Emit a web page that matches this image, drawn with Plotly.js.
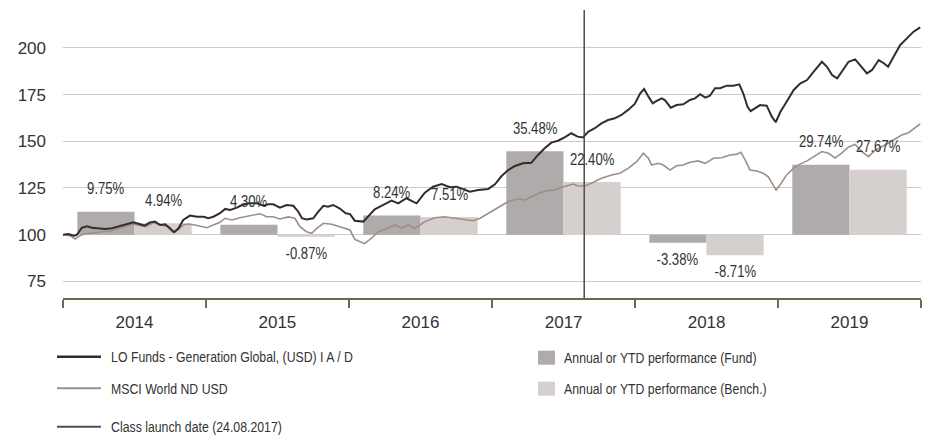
<!DOCTYPE html>
<html>
<head>
<meta charset="utf-8">
<script src="https://cdn.plot.ly/plotly-3.0.1.min.js"></script>
<style>
  html, body { margin: 0; padding: 0; background: #ffffff; }
  #chart { width: 927px; height: 436px; }
</style>
</head>
<body>
<div id="chart"></div>
<script>
// ---------- DATA ----------
const years = ['2014', '2015', '2016', '2017', '2018', '2019'];
const fundPerf  = [9.75, 4.30, 8.24, 35.48, -3.38, 29.74];
const benchPerf = [4.94, -0.87, 7.51, 22.40, -8.71, 27.67];

const fundDates = [
  '2014-01-01','2014-01-15','2014-01-28','2014-02-05','2014-02-18','2014-03-03','2014-03-16','2014-04-01','2014-04-18','2014-05-06',
  '2014-05-22','2014-06-13','2014-06-30','2014-07-17','2014-07-28','2014-08-11','2014-08-24','2014-09-06','2014-09-19','2014-10-01',
  '2014-10-12','2014-10-23','2014-11-04','2014-11-21','2014-12-09','2014-12-26',
  '2015-01-07','2015-01-20','2015-02-06','2015-02-19','2015-03-04','2015-03-21','2015-04-07','2015-04-24','2015-05-11','2015-05-28',
  '2015-06-09','2015-06-22','2015-07-09','2015-07-26','2015-08-12','2015-08-25','2015-09-03','2015-09-15','2015-10-02','2015-10-15',
  '2015-10-28','2015-11-09','2015-11-22','2015-12-09','2015-12-24',
  '2016-01-04','2016-01-16','2016-02-07','2016-02-19','2016-03-07','2016-03-24','2016-04-19','2016-05-06','2016-05-27','2016-06-13',
  '2016-06-22','2016-07-13','2016-08-03','2016-08-25','2016-09-15','2016-10-02','2016-10-19','2016-11-05','2016-11-26','2016-12-22',
  '2017-01-08','2017-01-25','2017-02-11','2017-02-28','2017-03-21','2017-04-11','2017-04-28','2017-05-15','2017-06-01','2017-06-18',
  '2017-07-05','2017-07-22','2017-08-07','2017-08-21','2017-09-03','2017-09-20','2017-10-07','2017-10-24','2017-11-10','2017-11-27',
  '2017-12-14','2017-12-31',
  '2018-01-14','2018-01-24','2018-02-04','2018-02-15','2018-02-25','2018-03-10','2018-03-18','2018-04-02','2018-04-17','2018-05-04',
  '2018-05-21','2018-06-03','2018-06-16','2018-06-29','2018-07-11','2018-07-24','2018-08-06','2018-08-23','2018-09-09','2018-09-24',
  '2018-10-04','2018-10-15','2018-10-23','2018-11-06','2018-11-16','2018-12-03','2018-12-16','2018-12-26',
  '2019-01-07','2019-01-19','2019-02-10','2019-02-27','2019-03-16','2019-04-02','2019-04-23','2019-05-06','2019-05-19','2019-06-01',
  '2019-06-13','2019-06-30','2019-07-17','2019-08-01','2019-08-16','2019-08-29','2019-09-15','2019-09-28','2019-10-09','2019-10-23',
  '2019-11-09','2019-11-26','2019-12-13','2019-12-30'
];
const fundValues = [
  100, 100.4, 99.5, 99.8, 103.7, 104.5, 103.7, 103.4, 103.0, 103.4,
  104.3, 105.6, 106.6, 105.6, 104.8, 106.6, 107.0, 105.2, 105.6, 103.4,
  101.3, 103.4, 107.9, 110.2, 109.6, 109.6,
  108.8, 109.6, 111.5, 113.8, 113.2, 114.5, 116.3, 116.8, 116.8, 115.5,
  116.3, 116.3, 114.5, 115.9, 115.5, 112.3, 108.8, 108.2, 108.8, 112.3,
  115.5, 115.0, 115.9, 114.0, 111.5,
  111.0, 107.5, 107.0, 109.6, 113.6, 115.4, 118.2, 116.8, 119.5, 117.7,
  116.8, 122.5, 125.7, 127.1, 125.4, 125.7, 124.3, 123.0, 123.9, 124.5,
  127.0, 131.4, 134.6, 136.8, 138.2, 138.5, 142.7, 146.3, 149.3, 150.3,
  152.1, 154.3, 152.5, 152.1, 155.1, 157.0, 159.6, 161.4, 162.3, 164.1,
  166.8, 170.0,
  175.7, 178.0, 173.9, 170.3, 171.6, 173.0, 172.1, 168.0, 169.4, 169.8,
  172.1, 173.0, 175.2, 173.4, 174.4, 178.4, 178.4, 179.8, 179.8, 180.5,
  175.7, 168.5, 166.2, 168.2, 169.4, 169.1, 163.2, 160.2,
  165.8, 169.8, 177.5, 181.0, 182.8, 187.3, 192.6, 189.9, 185.5, 183.7,
  187.3, 192.6, 193.9, 189.9, 186.4, 188.2, 193.5, 191.8, 189.9, 195.3,
  201.6, 205.1, 208.7, 211.0
];

const benchDates = [
  '2014-01-01','2014-01-19','2014-02-01','2014-02-14','2014-02-26','2014-04-01','2014-05-01','2014-06-01','2014-06-29','2014-07-17',
  '2014-08-01','2014-08-19','2014-09-06','2014-09-25','2014-10-09','2014-10-23','2014-11-04','2014-11-16','2014-12-04','2014-12-22',
  '2015-01-03','2015-01-20','2015-02-06','2015-02-19','2015-03-08','2015-03-29','2015-04-24','2015-05-19','2015-06-05','2015-06-22',
  '2015-07-09','2015-07-30','2015-08-16','2015-08-29','2015-09-15','2015-09-28','2015-10-11','2015-10-28','2015-11-18','2015-12-09',
  '2015-12-24',
  '2016-01-04','2016-01-16','2016-02-10','2016-02-28','2016-03-16','2016-04-10','2016-04-28','2016-05-15','2016-06-01','2016-06-18',
  '2016-07-13','2016-08-08','2016-09-02','2016-09-28','2016-10-23','2016-11-13','2016-12-01','2016-12-22',
  '2017-01-16','2017-02-11','2017-03-08','2017-03-25','2017-04-11','2017-05-03','2017-05-24','2017-06-10','2017-06-27','2017-07-14',
  '2017-07-27','2017-08-08','2017-08-26','2017-09-11','2017-10-07','2017-11-02','2017-11-23','2017-12-14','2017-12-31',
  '2018-01-05','2018-01-22','2018-02-04','2018-02-12','2018-03-01','2018-03-14','2018-03-31','2018-04-17','2018-05-04','2018-05-21',
  '2018-06-11','2018-06-29','2018-07-20','2018-08-10','2018-08-31','2018-09-17','2018-09-28','2018-10-09','2018-10-21','2018-11-08',
  '2018-11-24','2018-12-07','2018-12-16','2018-12-27',
  '2019-01-06','2019-01-23','2019-02-09','2019-02-26','2019-03-16','2019-04-06','2019-04-23','2019-05-10','2019-05-27','2019-06-13',
  '2019-06-30','2019-07-17','2019-08-03','2019-08-20','2019-09-06','2019-09-23','2019-10-10','2019-10-27','2019-11-13','2019-11-30',
  '2019-12-17','2019-12-30'
];
const benchValues = [
  100, 99.5, 97.7, 99.5, 100.5, 101.2, 102.0, 103.8, 105.7, 105.0,
  104.3, 106.4, 105.5, 104.2, 101.3, 102.8, 105.2, 105.7, 105.2, 104.5,
  103.7, 105.2, 106.6, 108.8, 107.9, 109.1, 110.2, 111.2, 109.6, 109.6,
  108.4, 109.5, 108.8, 104.3, 101.6, 100.7, 103.4, 106.1, 105.6, 104.3,
  103.0,
  102.5, 97.5, 95.2, 98.1, 101.6, 103.4, 105.2, 103.4, 105.2, 103.4,
  107.0, 109.1, 109.6, 108.8, 108.2, 107.5, 108.8, 111.5,
  114.5, 117.8, 119.2, 118.6, 120.3, 122.5, 123.6, 123.9, 125.4, 126.6,
  127.1, 126.1, 126.1, 127.5, 130.2, 132.0, 132.9, 135.5, 138.2,
  139.1, 143.6, 140.9, 137.3, 138.2, 137.3, 134.6, 136.9, 137.3, 138.8,
  139.5, 138.2, 140.9, 141.2, 142.7, 143.0, 144.1, 140.0, 134.6, 134.1,
  132.9, 131.0, 127.5, 123.9,
  126.6, 132.0, 135.5, 137.8, 139.5, 142.5, 144.5, 143.6, 141.0, 143.8,
  147.0, 148.3, 144.4, 141.8, 145.3, 147.1, 149.3, 151.6, 153.4, 154.6,
  157.0, 159.3
];

const launchDate = '2017-08-24';
const tickValues = [75, 100, 125, 150, 175, 200];

const fundName   = 'LO Funds - Generation Global, (USD) I A / D';
const benchName  = 'MSCI World ND USD';
const launchName = 'Class launch date (24.08.2017)';
const fundBarName  = 'Annual or YTD performance (Fund)';
const benchBarName = 'Annual or YTD performance (Bench.)';

// ---------- STYLE ----------
const FONT = '"Liberation Sans", Arial, Helvetica, sans-serif';
const NARROW = 0.82;   // horizontal condensing of label / legend text
const TXT = '#333333';
const C_FUND_LINE = '#362b2b';
const C_BENCH_LINE = '#9d8f87';
const C_FUND_BAR = '#afabaa';
const C_BENCH_BAR = '#d5d0cd';
const C_LAUNCH = '#4d4d4d';
const C_AXIS = '#6b6b4b';

const M = {l: 63, r: 6, t: 10, b: 138};
const PW = 927 - M.l - M.r, PH = 436 - M.t - M.b;
const px = v => (v - M.l) / PW;          // pixel -> paper x
const py = v => (436 - M.b - v) / PH;    // pixel -> paper y

const BARGAP = 0.2;
const half = (1 - BARGAP) / 4;

// ---------- TRACES ----------
const traces = [
  { type: 'bar', name: fundBarName, x: years, y: fundPerf, xaxis: 'x', yaxis: 'y',
    marker: {color: C_FUND_BAR}, hoverinfo: 'skip' },
  { type: 'bar', name: benchBarName, x: years, y: benchPerf, xaxis: 'x', yaxis: 'y',
    marker: {color: C_BENCH_BAR}, hoverinfo: 'skip' },
  { type: 'scatter', mode: 'lines', name: benchName, x: benchDates, y: benchValues,
    xaxis: 'x2', yaxis: 'y2', line: {color: C_BENCH_LINE, width: 1.6} },
  { type: 'scatter', mode: 'lines', name: fundName, x: fundDates, y: fundValues,
    xaxis: 'x2', yaxis: 'y2', line: {color: C_FUND_LINE, width: 2} }
];

// ---------- ANNOTATIONS ----------
const annotations = [];
years.forEach((yr, i) => {
  [[fundPerf[i], -half], [benchPerf[i], half]].forEach(([v, off]) => {
    annotations.push({
      xref: 'x', yref: 'y', x: i + off, y: v,
      text: v.toFixed(2) + '%', showarrow: false,
      xanchor: 'center', yanchor: 'middle',
      yshift: v >= 0 ? 23 : -16.5,
      font: {family: FONT, size: 16, color: TXT}
    });
  });
});

// legend (manual)
const legendRows = [
  {kind: 'line', xs: 57, xe: 101, y: 356.7, color: C_FUND_LINE, w: 2.6, tx: 109, text: fundName},
  {kind: 'line', xs: 57, xe: 101, y: 388.2, color: C_BENCH_LINE, w: 2, tx: 109, text: benchName},
  {kind: 'line', xs: 57, xe: 101, y: 426.7, color: C_LAUNCH, w: 2, tx: 109, text: launchName},
  {kind: 'box', xs: 538, xe: 555, y: 357.7, color: C_FUND_BAR, tx: 561.7, text: fundBarName},
  {kind: 'box', xs: 538, xe: 555, y: 388.7, color: C_BENCH_BAR, tx: 561.7, text: benchBarName}
];
const shapes = [
  { type: 'line', xref: 'x2', yref: 'paper', x0: launchDate, x1: launchDate, y0: 0, y1: 1,
    line: {color: C_LAUNCH, width: 1.5}, layer: 'above' }
];
legendRows.forEach(r => {
  if (r.kind === 'line') {
    shapes.push({type: 'line', xref: 'paper', yref: 'paper',
      x0: px(r.xs), x1: px(r.xe), y0: py(r.y), y1: py(r.y),
      line: {color: r.color, width: r.w}});
  } else {
    shapes.push({type: 'rect', xref: 'paper', yref: 'paper',
      x0: px(r.xs), x1: px(r.xe), y0: py(r.y - 7), y1: py(r.y + 7),
      fillcolor: r.color, line: {width: 0}});
  }
  annotations.push({xref: 'paper', yref: 'paper', x: px(r.tx), y: py(r.y),
    text: r.text, showarrow: false, xanchor: 'left', yanchor: 'middle',
    font: {family: FONT, size: 15, color: TXT}});
});

// ---------- LAYOUT ----------
const layout = {
  width: 927, height: 436,
  margin: M,
  paper_bgcolor: '#ffffff', plot_bgcolor: '#ffffff',
  showlegend: false,
  barmode: 'group', bargap: BARGAP, bargroupgap: 0,
  font: {family: FONT, color: TXT},
  xaxis: { type: 'category', categoryorder: 'array', categoryarray: years,
    range: [-0.5, years.length - 0.5], visible: false, fixedrange: true },
  yaxis: { range: [-26.9, 95.6], visible: false, showgrid: false, zeroline: false, fixedrange: true },
  xaxis2: { type: 'date', overlaying: 'x', anchor: 'y2', side: 'bottom',
    range: ['2014-01-01', '2020-01-01'], dtick: 'M12', tick0: '2014-01-01',
    tickformat: '%Y', ticklabelmode: 'period',
    ticks: 'outside', ticklen: 8, tickwidth: 1.5, tickcolor: C_AXIS,
    showline: true, linecolor: C_AXIS, linewidth: 1.5,
    showgrid: false, zeroline: false,
    tickfont: {family: FONT, size: 17, color: TXT} },
  yaxis2: { overlaying: 'y', side: 'left', anchor: 'x2',
    range: [66.1, 220.3], tickvals: tickValues,
    showgrid: true, gridcolor: '#cccccc', gridwidth: 1,
    zeroline: false, showline: false, ticks: '', ticklabelstandoff: 16,
    tickfont: {family: FONT, size: 17, color: TXT} },
  shapes: shapes,
  annotations: annotations
};

Plotly.newPlot('chart', traces, layout, {staticPlot: true, displayModeBar: false}).then(gd => {
  // condense annotation text horizontally (narrow typeface look), keeping its anchor fixed
  gd.querySelectorAll('.annotation').forEach(g => {
    const ann = layout.annotations[+g.getAttribute('data-index')];
    const t = g.querySelector('text.annotation-text');
    if (!ann || !t) return;
    const bb = t.getBBox();
    const ax = ann.xanchor === 'left' ? bb.x : (ann.xanchor === 'right' ? bb.x + bb.width : bb.x + bb.width / 2);
    const prev = t.getAttribute('transform') || '';
    t.setAttribute('transform', prev + ' translate(' + ax + ',0) scale(' + NARROW + ',1) translate(' + (-ax) + ',0)');
  });
});
</script>
</body>
</html>
